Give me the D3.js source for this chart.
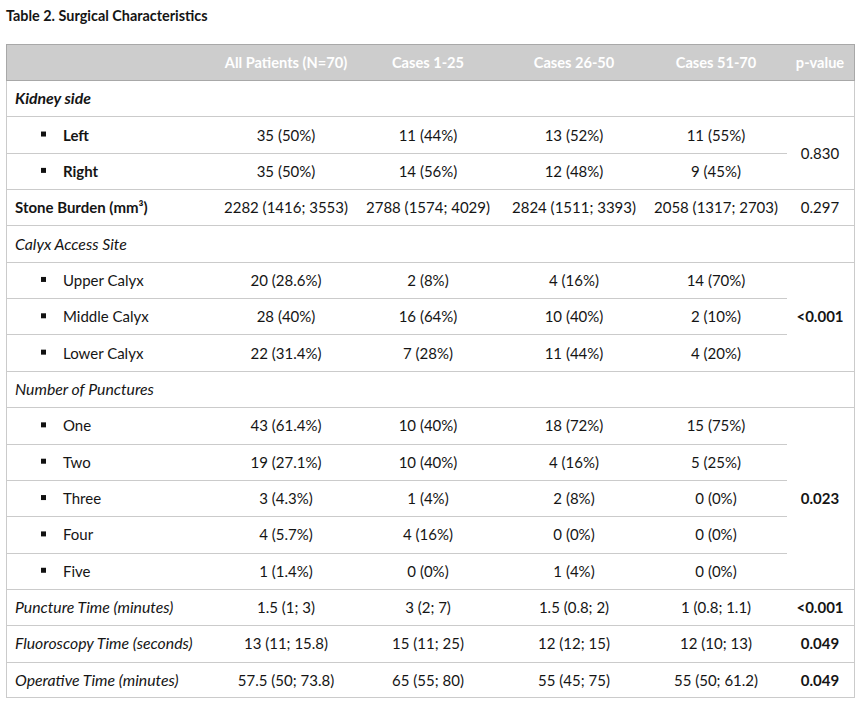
<!DOCTYPE html>
<meta charset="utf-8">
<script src="https://d3js.org/d3.v7.min.js"></script>
<style>
  body { margin: 0; background: #fff; }
  text { font-family: Lato, "Open Sans", sans-serif; fill: #151515; }
</style>
<body>
<div id="canvas"></div>
<script>

  // titulo e cabecalho
  var title = "Table 2. Surgical Characteristics";
  var columns = ["", "All Patients (N=70)", "Cases 1-25", "Cases 26-50", "Cases 51-70", "p-value"];

  // linhas da tabela
  var rowLabels = ["Kidney side", "Left", "Right", "Stone Burden (mm³)", "Calyx Access Site",
    "Upper Calyx", "Middle Calyx", "Lower Calyx", "Number of Punctures",
    "One", "Two", "Three", "Four", "Five",
    "Puncture Time (minutes)", "Fluoroscopy Time (seconds)", "Operative Time (minutes)"];
  // group = titulo de grupo, item = subitem com marcador, row = linha simples
  var rowKinds = ["group", "item", "item", "row", "group",
    "item", "item", "item", "group",
    "item", "item", "item", "item", "item",
    "group", "group", "group"];

  var allPatients = ["", "35 (50%)", "35 (50%)", "2282 (1416; 3553)", "",
    "20 (28.6%)", "28 (40%)", "22 (31.4%)", "",
    "43 (61.4%)", "19 (27.1%)", "3 (4.3%)", "4 (5.7%)", "1 (1.4%)",
    "1.5 (1; 3)", "13 (11; 15.8)", "57.5 (50; 73.8)"];
  var cases1_25 = ["", "11 (44%)", "14 (56%)", "2788 (1574; 4029)", "",
    "2 (8%)", "16 (64%)", "7 (28%)", "",
    "10 (40%)", "10 (40%)", "1 (4%)", "4 (16%)", "0 (0%)",
    "3 (2; 7)", "15 (11; 25)", "65 (55; 80)"];
  var cases26_50 = ["", "13 (52%)", "12 (48%)", "2824 (1511; 3393)", "",
    "4 (16%)", "10 (40%)", "11 (44%)", "",
    "18 (72%)", "4 (16%)", "2 (8%)", "0 (0%)", "1 (4%)",
    "1.5 (0.8; 2)", "12 (12; 15)", "55 (45; 75)"];
  var cases51_70 = ["", "11 (55%)", "9 (45%)", "2058 (1317; 2703)", "",
    "14 (70%)", "2 (10%)", "4 (20%)", "",
    "15 (75%)", "5 (25%)", "0 (0%)", "0 (0%)", "0 (0%)",
    "1 (0.8; 1.1)", "12 (10; 13)", "55 (50; 61.2)"];

  // p-valor: primeira e ultima linha do bloco mesclado
  var pValues = ["0.830", "0.297", "<0.001", "0.023", "<0.001", "0.049", "0.049"];
  var pFirst = [1, 3, 5, 9, 14, 15, 16];
  var pLast  = [2, 3, 7, 13, 14, 15, 16];

  var boldRows = ["Kidney side", "Left", "Right", "Stone Burden (mm³)"];

  var width = 862, height = 704;
  var left = 6, right = 855, headTop = 44, headBottom = 80, bodyBottom = 698;
  var pColLeft = 787;
  var fs = "15px";

  var svg = d3.select("#canvas").append("svg")
    .attr("width", width)
    .attr("height", height);

  // escala das linhas
  var y = d3.scaleBand()
    .domain(d3.range(rowLabels.length))
    .range([headBottom, bodyBottom]);

  // escala das colunas (centro de cada coluna)
  var x = d3.scaleOrdinal()
    .domain(columns)
    .range([15, 286, 428, 574, 716, 820]);

  svg.append("text")
    .attr("x", left)
    .attr("y", 21)
    .style("font-size", "14.4px")
    .style("font-weight", "bold")
    .text(title);

  // cabecalho
  svg.append("rect")
    .attr("x", left).attr("y", headTop)
    .attr("width", right - left).attr("height", headBottom - headTop)
    .attr("fill", "#cdcdcd");

  svg.selectAll(".head")
    .data(columns.slice(1))
    .enter()
    .append("text")
    .attr("class", "head")
    .attr("x", function(d){ return x(d); })
    .attr("y", (headTop + headBottom) / 2 + 6)
    .attr("text-anchor", "middle")
    .style("font-size", "14.6px")
    .style("font-weight", "bold")
    .style("fill", "#fff")
    .text(function(d){ return d; });

  // linhas horizontais
  var lines = d3.range(1, rowLabels.length).map(function(i){
    var inside = pFirst.some(function(f, k){ return i > f && i <= pLast[k]; });
    return { y: y(i), x2: inside ? pColLeft : right };
  });

  svg.selectAll(".sep")
    .data(lines)
    .enter()
    .append("line")
    .attr("x1", left)
    .attr("x2", function(d){ return d.x2; })
    .attr("y1", function(d){ return Math.round(d.y) + 0.5; })
    .attr("y2", function(d){ return Math.round(d.y) + 0.5; })
    .attr("stroke", "#cbcbcb");

  // bordas
  svg.append("rect")
    .attr("x", left + 0.5).attr("y", headBottom + 0.5)
    .attr("width", right - left - 1).attr("height", bodyBottom - headBottom - 1)
    .attr("fill", "none")
    .attr("stroke", "#cbcbcb");

  [headTop, headBottom].forEach(function(v){
    svg.append("line")
      .attr("x1", left).attr("x2", right)
      .attr("y1", v + 0.5).attr("y2", v + 0.5)
      .attr("stroke", "#a8a8a8");
  });
  svg.append("line").attr("x1", left + 0.5).attr("x2", left + 0.5)
    .attr("y1", headTop).attr("y2", headBottom).attr("stroke", "#a8a8a8");
  svg.append("line").attr("x1", right - 0.5).attr("x2", right - 0.5)
    .attr("y1", headTop).attr("y2", headBottom).attr("stroke", "#a8a8a8");

  var mid = function(i){ return y(i) + y.bandwidth() / 2 + 6; };

  // rotulos
  var rows = svg.selectAll(".row")
    .data(rowLabels)
    .enter()
    .append("g")
    .attr("class", "row");

  rows.filter(function(d, i){ return rowKinds[i] === "item"; })
    .append("rect")
    .attr("x", 41)
    .attr("y", function(d){ return mid(rowLabels.indexOf(d)) - 9; })
    .attr("width", 5)
    .attr("height", 5)
    .attr("fill", "#111");

  // italico do Lato e mais estreito, por isso um pouco maior
  rows.append("text")
    .attr("x", function(d, i){ return rowKinds[i] === "item" ? 63 : x(""); })
    .attr("y", function(d, i){ return mid(i); })
    .style("font-size", function(d, i){ return rowKinds[i] === "group" ? "15.8px" : fs; })
    .style("font-style", function(d, i){ return rowKinds[i] === "group" ? "italic" : "normal"; })
    .style("font-weight", function(d){ return boldRows.indexOf(d) >= 0 ? "bold" : "normal"; })
    .text(function(d){ return d; });

  // valores das colunas
  var series = [allPatients, cases1_25, cases26_50, cases51_70];
  series.forEach(function(values, c){
    svg.selectAll(".v" + c)
      .data(values)
      .enter()
      .append("text")
      .attr("class", "v" + c)
      .attr("x", x(columns[c + 1]))
      .attr("y", function(d, i){ return mid(i); })
      .attr("text-anchor", "middle")
      .style("font-size", fs)
      .text(function(d){ return d; });
  });

  // p-valores (negrito quando < 0.05)
  svg.selectAll(".p")
    .data(pValues)
    .enter()
    .append("text")
    .attr("class", "p")
    .attr("x", x("p-value"))
    .attr("y", function(d, k){ return (y(pFirst[k]) + y(pLast[k]) + y.bandwidth()) / 2 + 6; })
    .attr("text-anchor", "middle")
    .style("font-size", fs)
    .style("font-weight", function(d){ return parseFloat(d.replace("<", "")) < 0.05 ? "bold" : "normal"; })
    .text(function(d){ return d; });

</script>
</body>
